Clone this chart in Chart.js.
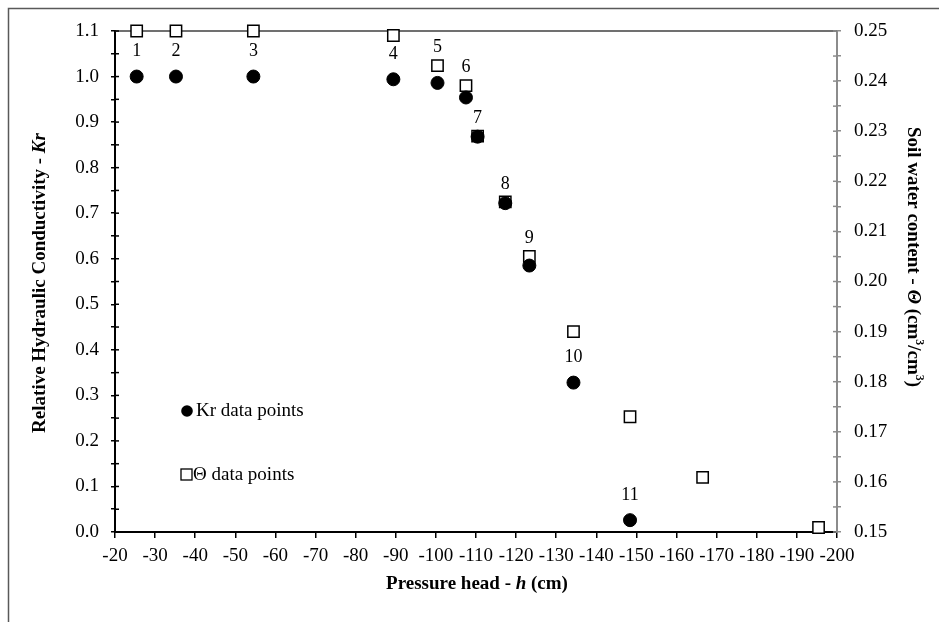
<!DOCTYPE html>
<html>
<head>
<meta charset="utf-8">
<script src="https://cdn.jsdelivr.net/npm/chart.js@4/dist/chart.umd.min.js"></script>
<style>
    html, body { margin: 0; padding: 0; background: #fff; }
    #wrap { width: 939px; height: 622px; }
</style>
</head>
<body>
<div id="wrap"><canvas id="chart" width="939" height="622"></canvas></div>
<script>
// Data
const pointNumbers = ['1', '2', '3', '4', '5', '6', '7', '8', '9', '10', '11'];
const krHead = [-25.4, -35.2, -54.5, -89.4, -100.4, -107.5, -110.4, -117.3, -123.3, -134.3, -148.4];
const krValues = [1.0, 1.0, 1.0, 0.994, 0.986, 0.954, 0.868, 0.722, 0.585, 0.328, 0.026];
const thetaHead = [-25.4, -35.2, -54.5, -89.4, -100.4, -107.5, -110.4, -117.3, -123.3, -134.3, -148.4, -166.5, -195.4];
const thetaValues = [0.25, 0.25, 0.25, 0.2491, 0.2431, 0.2391, 0.229, 0.2159, 0.205, 0.19, 0.173, 0.1609, 0.1509];
const seriesLabels = ['Kr data points', '\u0398 data points'];

const SERIF = "'Liberation Serif', 'Times New Roman', serif";
const B = 'bold 19px ' + SERIF;
const BI = 'italic bold 19px ' + SERIF;
const SUP = 'bold 12px ' + SERIF;

Chart.defaults.font.family = SERIF;
Chart.defaults.font.size = 19;
Chart.defaults.color = '#000';

// draw a line of text made of differently styled parts, centred on (cx, cy)
function drawRich(ctx, parts, cx, cy, angle) {
    ctx.save();
    ctx.translate(cx, cy);
    ctx.rotate(angle);
    ctx.textBaseline = 'middle';
    ctx.textAlign = 'left';
    ctx.fillStyle = '#000';
    let total = 0;
    parts.forEach(p => { ctx.font = p[1]; total += ctx.measureText(p[0]).width; });
    let x = -total / 2;
    parts.forEach(p => {
        ctx.font = p[1];
        ctx.fillText(p[0], x, p[2] || 0);
        x += ctx.measureText(p[0]).width;
    });
    ctx.restore();
}

const decorPlugin = {
    id: 'decor',
    beforeDraw(chart) {
        const ctx = chart.ctx;
        ctx.save();
        ctx.fillStyle = '#fff';
        ctx.fillRect(0, 0, chart.width, chart.height);
        // outer frame
        ctx.strokeStyle = '#595959';
        ctx.lineWidth = 1.5;
        ctx.strokeRect(8.5, 8.5, 1000, 1000);
        ctx.restore();
    },
    beforeDatasetsDraw(chart) {
        const ctx = chart.ctx;
        const area = chart.chartArea;
        ctx.save();
        // top edge of plot
        ctx.strokeStyle = '#404040';
        ctx.lineWidth = 1.5;
        ctx.beginPath();
        ctx.moveTo(area.left, area.top);
        ctx.lineTo(area.right, area.top);
        ctx.stroke();
        // inward half of the y tick marks
        ctx.lineWidth = 1.5;
        ctx.strokeStyle = '#000';
        chart.scales.y.ticks.forEach(t => {
            const py = chart.scales.y.getPixelForValue(t.value);
            ctx.beginPath();
            ctx.moveTo(area.left, py);
            ctx.lineTo(area.left + 4, py);
            ctx.stroke();
        });
        ctx.strokeStyle = '#8c8c8c';
        chart.scales.y1.ticks.forEach(t => {
            const py = chart.scales.y1.getPixelForValue(t.value);
            ctx.beginPath();
            ctx.moveTo(area.right, py);
            ctx.lineTo(area.right - 4, py);
            ctx.stroke();
        });
        ctx.restore();
    },
    afterDraw(chart) {
        const ctx = chart.ctx;
        const xs = chart.scales.x, ys = chart.scales.y, ys1 = chart.scales.y1;

        // axis titles
        drawRich(ctx, [['Pressure head - ', B], ['h', BI], [' (cm)', B]], 477, 584, 0);
        drawRich(ctx, [['Relative Hydraulic Conductivity - ', B], ['Kr', BI]], 40, 283, -Math.PI / 2);
        drawRich(ctx, [['Soil water content - ', B], ['\u0398', BI], [' (cm', B], ['3', SUP, -6],
            ['/cm', B], ['3', SUP, -6], [')', B]], 913, 257, Math.PI / 2);

        // point numbers
        ctx.save();
        ctx.font = '18px ' + SERIF;
        ctx.fillStyle = '#000';
        ctx.textAlign = 'center';
        ctx.textBaseline = 'middle';
        pointNumbers.forEach((n, i) => {
            const px = xs.getPixelForValue(krHead[i]);
            const pc = ys.getPixelForValue(krValues[i]);
            const psq = ys1.getPixelForValue(thetaValues[i]);
            const d = pc - psq;
            const ly = (d >= 0 && d < 30) ? psq - 18 : pc - 25;
            ctx.fillText(n, px, ly);
        });

        // legend inside the plot
        ctx.font = '19px ' + SERIF;
        ctx.textAlign = 'left';
        ctx.beginPath();
        ctx.arc(187, 411, 5.8, 0, Math.PI * 2);
        ctx.fill();
        ctx.fillText(seriesLabels[0], 196, 411);
        ctx.strokeStyle = '#000';
        ctx.lineWidth = 1.3;
        ctx.fillStyle = '#fff';
        ctx.fillRect(181, 469, 11, 11);
        ctx.strokeRect(181, 469, 11, 11);
        ctx.fillStyle = '#000';
        ctx.fillText(seriesLabels[1], 193, 475);
        ctx.restore();
    }
};

new Chart(document.getElementById('chart').getContext('2d'), {
    type: 'scatter',
    data: {
        datasets: [
            {
                label: seriesLabels[0],
                data: krHead.map((h, i) => ({ x: h, y: krValues[i] })),
                yAxisID: 'y',
                pointStyle: 'circle',
                pointRadius: 6.5,
                backgroundColor: '#000',
                borderColor: '#000',
                borderWidth: 1,
                clip: false,
            },
            {
                label: seriesLabels[1],
                data: thetaHead.map((h, i) => ({ x: h, y: thetaValues[i] })),
                yAxisID: 'y1',
                pointStyle: 'rect',
                pointRadius: 8,
                backgroundColor: '#fff',
                borderColor: '#000',
                borderWidth: 1.5,
                clip: false,
            },
        ],
    },
    options: {
        responsive: false,
        animation: false,
        devicePixelRatio: 1,
        layout: { padding: { top: 31, left: 0, right: 0, bottom: 0 } },
        plugins: {
            legend: { display: false },
            tooltip: { enabled: false },
        },
        scales: {
            x: {
                type: 'linear',
                position: 'bottom',
                reverse: true,
                min: -200,
                max: -20,
                afterFit: s => { s.height = 90; },
                border: { display: true, color: '#000', width: 2 },
                grid: { drawOnChartArea: false, drawTicks: true, tickLength: 6, color: '#000', lineWidth: 1.5 },
                ticks: {
                    stepSize: 10,
                    autoSkip: false,
                    maxRotation: 0,
                    padding: 7,
                    callback: v => String(v),
                },
            },
            y: {
                type: 'linear',
                position: 'left',
                min: 0,
                max: 1.1,
                afterFit: s => { s.width = 115; },
                border: { display: true, color: '#000', width: 2 },
                grid: { drawOnChartArea: false, drawTicks: true, tickLength: 4, color: '#000', lineWidth: 1.5 },
                ticks: {
                    stepSize: 0.05,
                    autoSkip: false,
                    padding: 12,
                    callback: v => (Math.round(v * 20) % 2 === 0 ? v.toFixed(1) : ''),
                },
            },
            y1: {
                type: 'linear',
                position: 'right',
                min: 0.15,
                max: 0.25,
                afterFit: s => { s.width = 102; },
                border: { display: true, color: '#8c8c8c', width: 2 },
                grid: { drawOnChartArea: false, drawTicks: true, tickLength: 4, color: '#8c8c8c', lineWidth: 1.5 },
                ticks: {
                    stepSize: 0.005,
                    autoSkip: false,
                    padding: 13,
                    callback: v => (Math.round(v * 1000) % 10 === 0 ? v.toFixed(2) : ''),
                },
            },
        },
    },
    plugins: [decorPlugin],
});
</script>
</body>
</html>
